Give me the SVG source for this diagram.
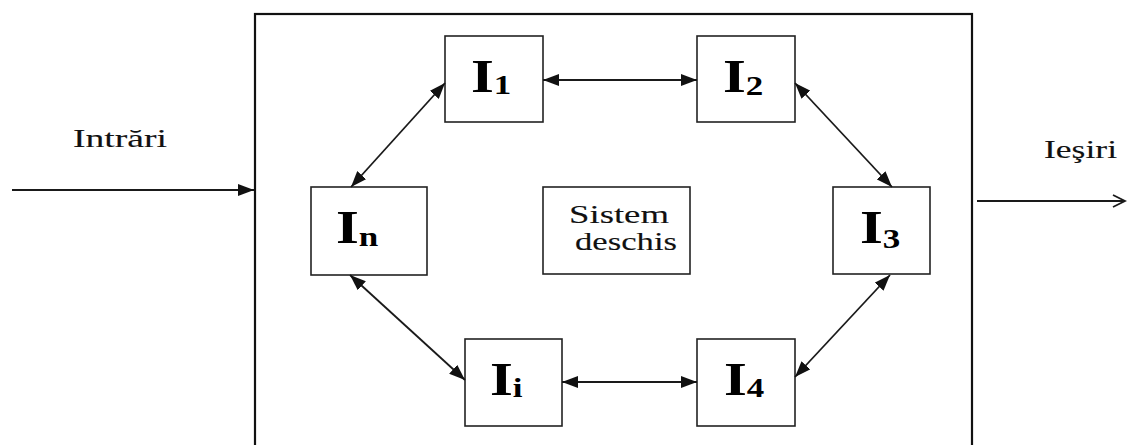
<svg xmlns="http://www.w3.org/2000/svg" width="1127" height="445" viewBox="0 0 1127 445">
<style>
.box{fill:#fff;stroke:#222;stroke-width:1.6}
.outer{fill:#fff;stroke:#111;stroke-width:2.2}
.con{stroke:#1a1a1a;stroke-width:1.8;fill:none}
.lbl{font-family:"Liberation Serif",serif;font-weight:bold;font-size:47px;fill:#000}
.sub{font-size:28px}
.txt{font-family:"Liberation Serif",serif;font-size:26px;fill:#111;stroke:#111;stroke-width:0.12}
</style>
<defs>
<marker id="ah" markerUnits="userSpaceOnUse" markerWidth="16" markerHeight="12" refX="16" refY="6" orient="auto-start-reverse" viewBox="0 0 16 12">
<path d="M0,0 L16,6 L0,12 z" fill="#111"/>
</marker>
</defs>
<rect width="1127" height="445" fill="#fff"/>
<g id="system">
<rect class="outer" x="255" y="14" width="717" height="440"/>
</g>
<g id="I1"><rect class="box" x="445" y="36" width="98" height="86"/>
<text class="lbl" transform="translate(471,92) scale(1.25,1)">I<tspan class="sub" dy="2">1</tspan></text></g>
<g id="I2"><rect class="box" x="697" y="36" width="98" height="86"/>
<text class="lbl" transform="translate(723,92) scale(1.25,1)">I<tspan class="sub" dy="3">2</tspan></text></g>
<g id="In"><rect class="box" x="311" y="187" width="116" height="88"/>
<text class="lbl" transform="translate(336,243) scale(1.25,1)">I<tspan class="sub" dy="3">n</tspan></text></g>
<g id="sistem"><rect class="box" x="543" y="187" width="147" height="87"/>
<text class="txt" x="619" y="223" text-anchor="middle" textLength="100" lengthAdjust="spacingAndGlyphs">Sistem</text>
<text class="txt" x="626" y="250" text-anchor="middle" textLength="102" lengthAdjust="spacingAndGlyphs">deschis</text></g>
<g id="I3"><rect class="box" x="833" y="187" width="97" height="87"/>
<text class="lbl" transform="translate(860,243) scale(1.25,1)">I<tspan class="sub" dy="5">3</tspan></text></g>
<g id="Ii"><rect class="box" x="465" y="339" width="97" height="87"/>
<text class="lbl" transform="translate(490,395) scale(1.25,1)">I<tspan class="sub" dy="2">i</tspan></text></g>
<g id="I4"><rect class="box" x="697" y="339" width="98" height="87"/>
<text class="lbl" transform="translate(724,395) scale(1.25,1)">I<tspan class="sub" dy="2">4</tspan></text></g>
<g id="io">
<text class="txt" x="73" y="147" textLength="94" lengthAdjust="spacingAndGlyphs">Intrări</text>
<text class="txt" x="1044" y="158" textLength="73" lengthAdjust="spacingAndGlyphs">Ieşiri</text>
</g>
<g id="connectors">
<line class="con" x1="12" y1="190" x2="254" y2="190" stroke="#444" stroke-width="2.2" marker-end="url(#ah)"/>
<line class="con" x1="977" y1="201" x2="1125" y2="201" stroke="#555" stroke-width="2"/>
<polyline class="con" points="1113,195 1125,201 1113,207" stroke-width="1.2"/>
<line class="con" x1="543" y1="80" x2="697" y2="80" marker-start="url(#ah)" marker-end="url(#ah)"/>
<line class="con" x1="562" y1="382" x2="697" y2="382" marker-start="url(#ah)" marker-end="url(#ah)"/>
<line class="con" x1="351" y1="187" x2="445" y2="83" marker-start="url(#ah)" marker-end="url(#ah)"/>
<line class="con" x1="795" y1="83" x2="892" y2="187" marker-start="url(#ah)" marker-end="url(#ah)"/>
<line class="con" x1="350" y1="275" x2="465" y2="380" marker-start="url(#ah)" marker-end="url(#ah)"/>
<line class="con" x1="890" y1="275" x2="795" y2="377" marker-start="url(#ah)" marker-end="url(#ah)"/>
</g>
</svg>
